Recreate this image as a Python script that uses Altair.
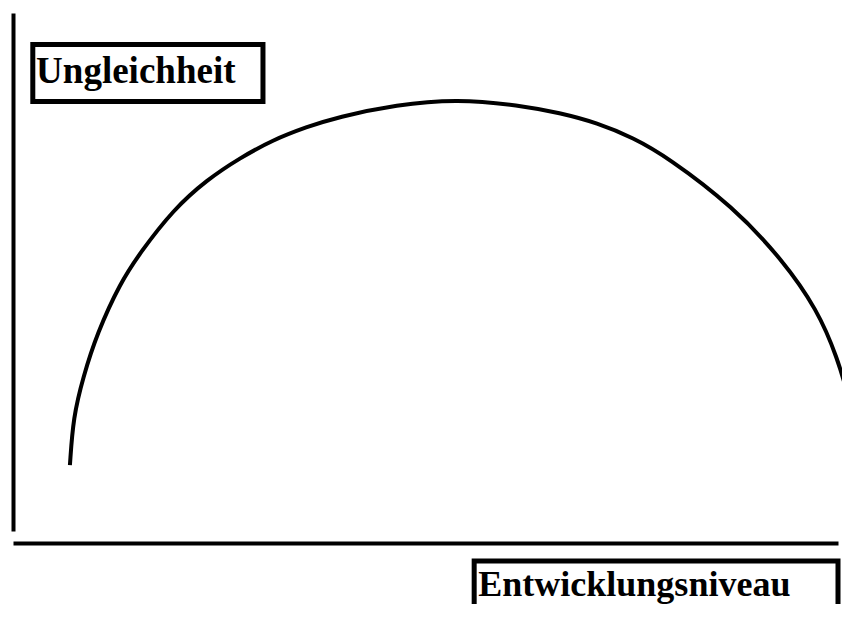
import altair as alt
import pandas as pd

# Curve (x: Entwicklungsniveau 0-100, y: Ungleichheit 0-100)
dev_level = [6.9, 7.3, 8.5, 10.2, 13.0, 15.4, 19.4, 23.5, 27.5, 31.5, 35.6, 39.3,
             46.5, 53.8, 61.4, 66.3, 70.8, 75.2, 79.3, 87.3, 93.3, 97.5,
             99.9, 101.5, 101.8]
inequality = [12.7, 22.0, 29.7, 38.2, 47.9, 53.7, 62.0, 67.8, 72.0, 75.5, 78.0, 79.9,
              82.3, 83.4, 82.2, 80.7, 78.8, 75.9, 72.2, 62.6, 52.3, 42.7,
              33.6, 24.7, 20.5]

y_label = ["Ungleichheit"]
x_label = ["Entwicklungsniveau"]

df = pd.DataFrame({"x": dev_level, "y": inequality, "order": list(range(len(dev_level)))})

xs = alt.Scale(domain=[0, 100], nice=False, zero=False)
ys = alt.Scale(domain=[0, 100], nice=False, zero=False)

x_axis = alt.Axis(domain=True, domainColor="black", domainWidth=4, offset=12,
                  ticks=False, labels=False, grid=False, title=None)
y_axis = alt.Axis(domain=True, domainColor="black", domainWidth=4,
                  ticks=False, labels=False, grid=False, title=None)

curve = alt.Chart(df).mark_line(color="black", strokeWidth=4, interpolate="basis").encode(
    x=alt.X("x:Q", scale=xs, axis=x_axis),
    y=alt.Y("y:Q", scale=ys, axis=y_axis),
    order="order:O",
)

font = "Liberation Serif"

box_y = alt.Chart(pd.DataFrame({"t": y_label})).mark_rect(
    fill="white", stroke="black", strokeWidth=5
).encode(
    x=alt.datum(2.4), x2=alt.datum(30.3),
    y=alt.datum(93.9), y2=alt.datum(82.9),
)
text_y = alt.Chart(pd.DataFrame({"t": y_label})).mark_text(
    font=font, fontSize=37, fontWeight="bold", align="left", baseline="alphabetic", color="black"
).encode(x=alt.datum(2.8), y=alt.datum(86.5), text="t:N")

box_x = alt.Chart(pd.DataFrame({"t": x_label})).mark_rect(
    fill="white", stroke="black", strokeWidth=5
).encode(
    x=alt.datum(55.9), x2=alt.datum(100.0),
    y=alt.datum(-5.8), y2=alt.datum(-25.0),
)
text_x = alt.Chart(pd.DataFrame({"t": x_label})).mark_text(
    font=font, fontSize=36, fontWeight="bold", align="left", baseline="alphabetic", color="black"
).encode(x=alt.datum(56.4), y=alt.datum(-12.5), text="t:N")

chart = alt.layer(curve, box_y, text_y, box_x, text_x).properties(
    width=825, height=518,
    autosize=alt.AutoSizeParams(type="none"),
    padding={"left": 5, "top": 5, "right": 4, "bottom": 73},
    background="white",
).configure_view(stroke=None)

chart.save("out.html", embed_options={"renderer": "svg", "actions": False})
